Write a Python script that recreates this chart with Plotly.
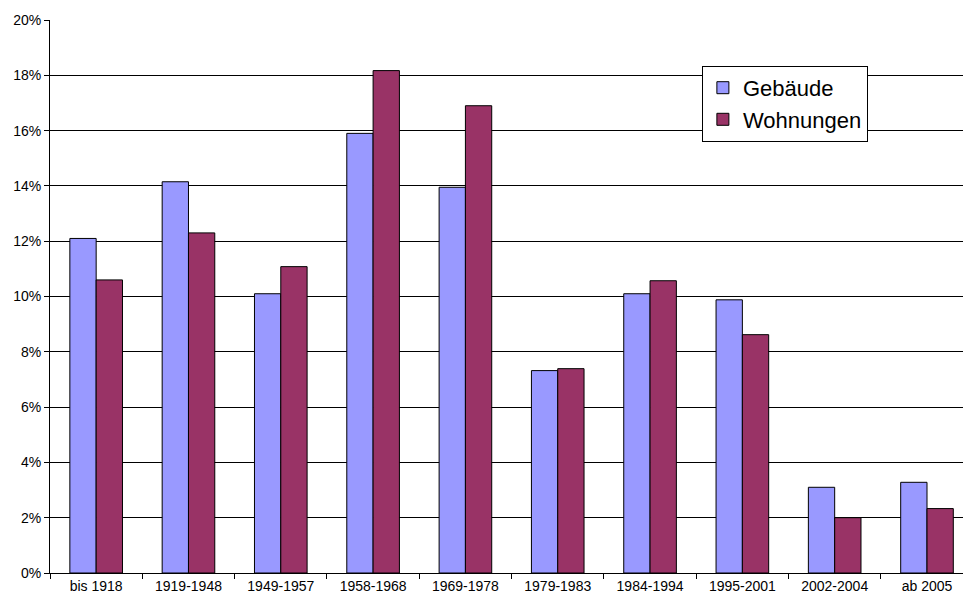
import plotly.graph_objects as go

categories = ["bis 1918", "1919-1948", "1949-1957", "1958-1968", "1969-1978",
              "1979-1983", "1984-1994", "1995-2001", "2002-2004", "ab 2005"]
gebaeude = [12.1, 14.15, 10.1, 15.9, 13.95, 7.32, 10.1, 9.88, 3.1, 3.28]
wohnungen = [10.6, 12.3, 11.08, 18.17, 16.9, 7.39, 10.57, 8.62, 2.0, 2.33]
y_ticks = [0, 2, 4, 6, 8, 10, 12, 14, 16, 18, 20]
y_labels = [f"{v}%" for v in y_ticks]

fig = go.Figure()
fig.add_trace(go.Bar(name="Gebäude", x=categories, y=gebaeude,
                     marker=dict(color="#9999FF", line=dict(color="#000000", width=1))))
fig.add_trace(go.Bar(name="Wohnungen", x=categories, y=wohnungen,
                     marker=dict(color="#993366", line=dict(color="#000000", width=1))))

fig.update_layout(
    width=963, height=601,
    margin=dict(l=50, r=0, t=20, b=28),
    paper_bgcolor="white", plot_bgcolor="white",
    barmode="group", bargap=0.43, bargroupgap=0,
    font=dict(family="Liberation Sans, Arial, sans-serif", color="#000000", size=14),
    legend=dict(x=0.714, y=0.917, xanchor="left", yanchor="top",
                bgcolor="white", bordercolor="#000000", borderwidth=1,
                font=dict(size=22), tracegroupgap=0, itemwidth=30),
    xaxis=dict(range=[-0.5, 9.39], showline=True, linecolor="#000000", linewidth=1,
               ticks="outside", tickson="boundaries", ticklen=5, tickcolor="#000000",
               showgrid=False, tickfont=dict(size=14)),
    yaxis=dict(range=[0, 20], tickmode="array", tickvals=y_ticks, ticktext=y_labels,
               showline=True, linecolor="#000000", linewidth=1,
               ticks="outside", ticklen=5, tickcolor="#000000",
               showgrid=True, gridcolor="#000000", gridwidth=1,
               zeroline=False, tickfont=dict(size=14)),
)

fig.write_html("out.html")
